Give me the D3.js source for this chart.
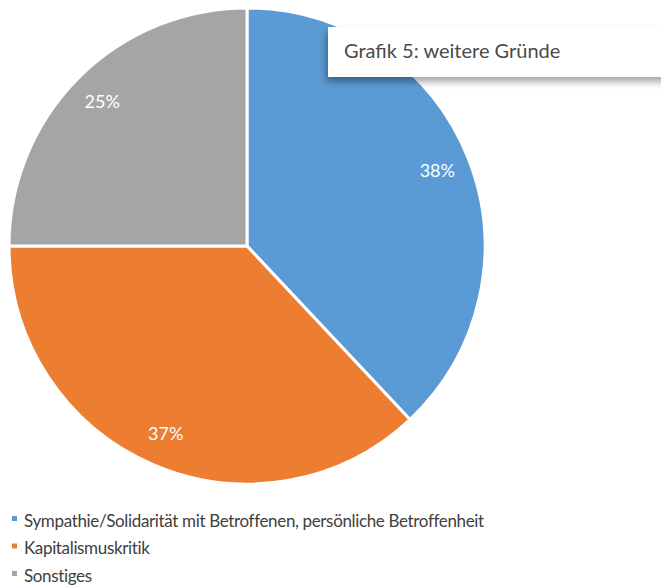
<!DOCTYPE html>
<html>
<head>
<meta charset="utf-8">
<script src="https://cdn.jsdelivr.net/npm/d3@7"></script>
<style>
  body { margin: 0; background: #fff; }
  svg { display: block; }
</style>
</head>
<body>
<svg id="chart" width="661" height="587"></svg>
<script>
// data
const categories = ["Sympathie/Solidarität mit Betroffenen, persönliche Betroffenheit", "Kapitalismuskritik", "Sonstiges"];
const values = [38, 37, 25];
const colors = ["#5b9bd5", "#ed7d31", "#a5a5a5"];
const title = "Grafik 5: weitere Gründe";

const svg = d3.select("#chart");
const font = "Lato, 'Noto Sans', sans-serif";

const cx = 247, cy = 246, r = 238;

const pie = d3.pie().sort(null).value(d => d)(values);
const arc = d3.arc().innerRadius(0).outerRadius(r);
const labelArc = d3.arc().innerRadius(r * 0.86).outerRadius(r * 0.86);

const g = svg.append("g").attr("transform", `translate(${cx},${cy})`);

g.selectAll("path.slice")
  .data(pie)
  .join("path")
  .attr("class", "slice")
  .attr("d", arc)
  .attr("fill", (d, i) => colors[i])
  .attr("stroke", "#fff")
  .attr("stroke-width", 3)
  .attr("stroke-linejoin", "round");

g.selectAll("text.lbl")
  .data(pie)
  .join("text")
  .attr("class", "lbl")
  .attr("transform", d => `translate(${labelArc.centroid(d)})`)
  .attr("text-anchor", "middle")
  .attr("dy", "0.35em")
  .attr("fill", "#fff")
  .style("font-family", font)
  .style("font-size", "18px")
  .text(d => d.data + "%");

// title box with shadow
const defs = svg.append("defs");
const f = defs.append("filter").attr("id", "shadow")
  .attr("x", "-10%").attr("y", "-30%").attr("width", "130%").attr("height", "180%");
f.append("feDropShadow")
  .attr("dx", -2).attr("dy", 5).attr("stdDeviation", 3.5)
  .attr("flood-color", "#000").attr("flood-opacity", 0.35);

svg.append("rect")
  .attr("x", 328).attr("y", 27)
  .attr("width", 345).attr("height", 50)
  .attr("fill", "#fff")
  .attr("filter", "url(#shadow)");

svg.append("text")
  .attr("x", 344).attr("y", 58)
  .attr("fill", "#4a4a4a")
  .style("font-family", font)
  .style("font-size", "20px")
  .text(title);

// legend
const legend = svg.append("g");
const items = legend.selectAll("g")
  .data(categories)
  .join("g")
  .attr("transform", (d, i) => `translate(0,${521 + i * 27.5})`);

items.append("rect")
  .attr("x", 12).attr("y", -5)
  .attr("width", 5).attr("height", 5)
  .attr("fill", (d, i) => colors[i]);

items.append("text")
  .attr("x", 24).attr("y", 0)
  .attr("dy", "0.35em")
  .attr("fill", "#404040")
  .style("font-family", font)
  .style("font-size", "17px")
  .style("letter-spacing", "-0.35px")
  .text(d => d);
</script>
</body>
</html>
